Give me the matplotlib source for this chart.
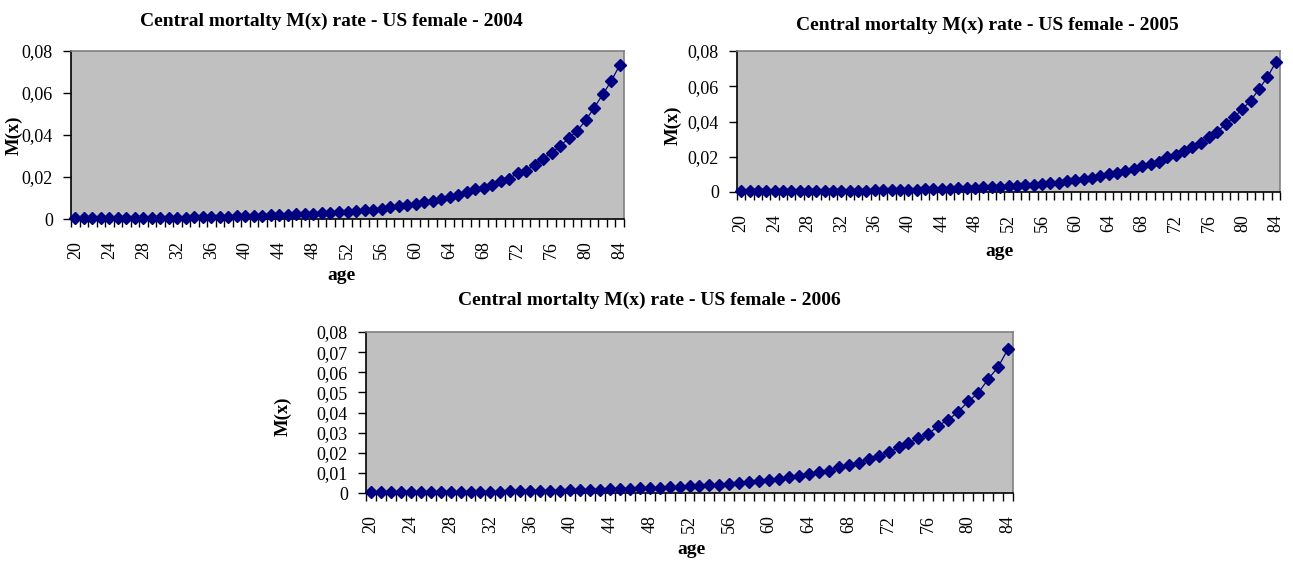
import matplotlib
matplotlib.use("Agg")
import matplotlib.pyplot as plt
from matplotlib.ticker import FixedLocator, FuncFormatter

plt.rcParams['font.family'] = ['Liberation Serif', 'DejaVu Serif']

ages = list(range(20, 85))

# central mortality rates
mx_2004 = [0.0004, 0.0004, 0.0004, 0.0005, 0.0005, 0.0005, 0.0005, 0.0005, 0.0005, 0.0006,
           0.0006, 0.0006, 0.0007, 0.0007, 0.0008, 0.0008, 0.0009, 0.0010, 0.0011, 0.0012,
           0.0013, 0.0014, 0.0015, 0.0017, 0.0018, 0.0020, 0.0022, 0.0024, 0.0026, 0.0028,
           0.0030, 0.0033, 0.0035, 0.0038, 0.0041, 0.0044, 0.0049, 0.0055, 0.0060, 0.0066,
           0.0073, 0.0080, 0.0088, 0.0097, 0.0106, 0.0116, 0.0128, 0.0142, 0.0150, 0.0160,
           0.0183, 0.0192, 0.0218, 0.0230, 0.0258, 0.0287, 0.0316, 0.0347, 0.0385, 0.0420,
           0.0470, 0.0530, 0.0593, 0.0657, 0.0733]
mx_2005 = [0.0004, 0.0004, 0.0004, 0.0004, 0.0005, 0.0005, 0.0005, 0.0005, 0.0005, 0.0006,
           0.0006, 0.0006, 0.0007, 0.0007, 0.0008, 0.0008, 0.0009, 0.0010, 0.0011, 0.0012,
           0.0013, 0.0014, 0.0015, 0.0016, 0.0018, 0.0019, 0.0021, 0.0023, 0.0025, 0.0027,
           0.0029, 0.0031, 0.0034, 0.0036, 0.0038, 0.0040, 0.0044, 0.0049, 0.0053, 0.0061,
           0.0067, 0.0072, 0.0082, 0.0091, 0.0101, 0.0105, 0.0120, 0.0133, 0.0146, 0.0158,
           0.0171, 0.0196, 0.0209, 0.0234, 0.0257, 0.0276, 0.0310, 0.0342, 0.0386, 0.0424,
           0.0471, 0.0519, 0.0585, 0.0652, 0.0737]
mx_2006 = [0.0004, 0.0004, 0.0004, 0.0004, 0.0005, 0.0005, 0.0005, 0.0005, 0.0005, 0.0006,
           0.0006, 0.0006, 0.0007, 0.0007, 0.0008, 0.0008, 0.0009, 0.0010, 0.0011, 0.0012,
           0.0013, 0.0014, 0.0015, 0.0016, 0.0018, 0.0019, 0.0021, 0.0023, 0.0025, 0.0027,
           0.0029, 0.0031, 0.0033, 0.0036, 0.0038, 0.0041, 0.0045, 0.0050, 0.0055, 0.0060,
           0.0065, 0.0071, 0.0078, 0.0086, 0.0096, 0.0103, 0.0111, 0.0128, 0.0139, 0.0149,
           0.0171, 0.0182, 0.0202, 0.0227, 0.0247, 0.0273, 0.0293, 0.0335, 0.0364, 0.0404,
           0.0455, 0.0497, 0.0565, 0.0626, 0.0716]

years = [2004, 2005, 2006]
series = [mx_2004, mx_2005, mx_2006]
y_ticks = [[0, 0.02, 0.04, 0.06, 0.08],
           [0, 0.02, 0.04, 0.06, 0.08],
           [0, 0.01, 0.02, 0.03, 0.04, 0.05, 0.06, 0.07, 0.08]]

W, H = 1293, 561
# plot boxes in pixels: left, top, right, bottom
boxes = [(71, 51, 624, 219), (737, 51, 1280, 192), (366, 332, 1013, 493)]
title_pos = [(331, 21), (987, 25), (649, 300)]
ylab_pos = [(14, 135), (673, 125), (283, 416)]
xlab_pos = [(341, 276), (1000, 252), (691, 550)]


def comma_fmt(v, pos):
    if abs(v) < 1e-12:
        return "0"
    return f"{v:.2f}".replace(".", ",")


fig = plt.figure(figsize=(W / 100, H / 100), dpi=100)

for i in range(3):
    l, t, r, b = boxes[i]
    ax = fig.add_axes([l / W, 1 - b / H, (r - l) / W, (b - t) / H])
    ax.set_facecolor("#c0c0c0")
    idx = list(range(len(ages)))
    ax.plot(idx, series[i], color="#000080", lw=0.9, marker="D", ms=6.5,
            markeredgecolor="#000080", markerfacecolor="#000080", clip_on=False, zorder=5)
    ax.set_xlim(-0.5, len(ages) - 0.5)
    ax.set_ylim(0, 0.08)

    ax.xaxis.set_major_locator(FixedLocator(idx[::4]))
    ax.set_xticklabels([str(a) for a in ages[::4]], rotation=90)
    ax.xaxis.set_minor_locator(FixedLocator([k - 0.5 for k in range(len(ages) + 1)]))
    ax.tick_params(axis="x", which="major", length=0, pad=16, labelsize=13)
    ax.tick_params(axis="x", which="minor", length=6, width=1, direction="out", color="black")

    ax.yaxis.set_major_locator(FixedLocator(y_ticks[i]))
    ax.yaxis.set_major_formatter(FuncFormatter(comma_fmt))
    ax.tick_params(axis="y", length=6, width=1, direction="out", pad=7, labelsize=13)

    for s in ["top", "right"]:
        ax.spines[s].set_color("#808080")
        ax.spines[s].set_linewidth(1.2)
    for s in ["left", "bottom"]:
        ax.spines[s].set_color("black")
        ax.spines[s].set_linewidth(1.2)

    tx, ty = title_pos[i]
    fig.text(tx / W, 1 - ty / H, f"Central mortalty M(x) rate - US female - {years[i]}",
             ha="center", va="center", fontsize=14, fontweight="bold")
    yx, yy = ylab_pos[i]
    fig.text(yx / W, 1 - yy / H, "M(x)", ha="center", va="center", rotation=90,
             fontsize=13.5, fontweight="bold")
    xx, xy = xlab_pos[i]
    fig.text(xx / W, 1 - xy / H, "age", ha="center", va="center",
             fontsize=14, fontweight="bold")

fig.savefig("out.png", dpi=100)
